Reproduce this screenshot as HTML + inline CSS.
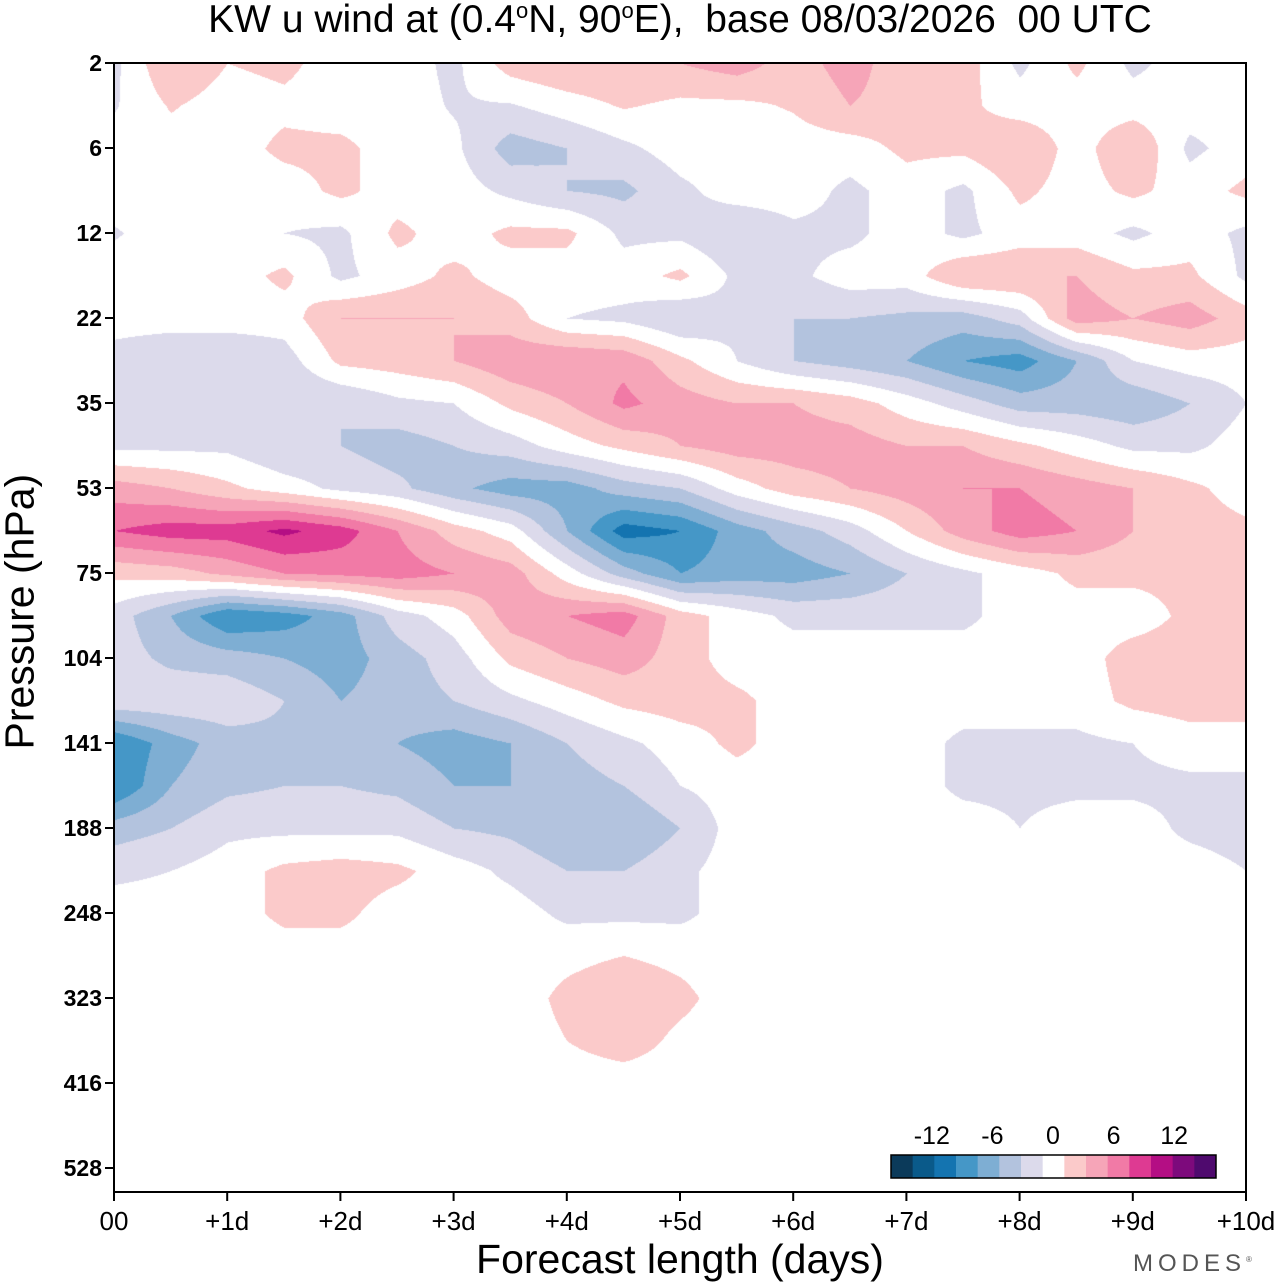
<!DOCTYPE html>
<html><head><meta charset="utf-8">
<style>
html,body{margin:0;padding:0;background:#fff;}
body{width:1280px;height:1286px;position:relative;overflow:hidden;font-family:"Liberation Sans",sans-serif;}
.t{position:absolute;white-space:nowrap;color:#000;}
</style></head>
<body>
<div class="t" style="left:0;width:1360px;text-align:center;top:-2px;font-size:39px;">KW u wind at (0.4<sup style="font-size:22px">o</sup>N, 90<sup style="font-size:22px">o</sup>E),&nbsp; base 08/03/2026&nbsp; 00 UTC</div>
<canvas id="cv" width="1280" height="1286" style="position:absolute;left:0;top:0"></canvas>
<svg id="sv" width="1280" height="1286" style="position:absolute;left:0;top:0"></svg>
<div class="t" style="left:0;width:1360px;text-align:center;top:1236px;font-size:41px;">Forecast length (days)</div>
<div class="t" style="left:-100px;top:606px;width:240px;text-align:center;font-size:41px;transform:rotate(-90deg);">Pressure (hPa)</div>
<div class="t" style="left:1133px;top:1250px;font-size:24px;letter-spacing:5px;color:#555;">MODES<sup style="font-size:8px">®</sup></div>
<script>
const xLabels=["00","+1d","+2d","+3d","+4d","+5d","+6d","+7d","+8d","+9d","+10d"];
const yLabels=["2","6","12","22","35","53","75","104","141","188","248","323","416","528"];
const cbLabels=["-12","-6","0","6","12"];
const cbValues=[-12,-6,0,6,12];
const levels=[-13,-11,-9,-7,-5,-3,-1,1,3,5,7,9,11,13];
const colors=["#0b3a5a","#0a5a8a","#1474b0","#4597c7","#7eaed3","#b3c3de","#dcdaeb","#ffffff","#fbcaca","#f6a5b8","#f17aa6","#de3a92","#b40e84","#7d0a7c","#4f0a6e"];
// grid: rows = half pressure ticks (27), cols = half days (21)
const r0=[-1.5,3,1,1.5,0,0,-1.5,2,3,3,3,4,2,4,1.5,2,-1.5,1.5,-1.5,0,0];
const r1=[-1.2,1.2,0,0.5,0,0,-1.2,-1.2,0,1.2,0.5,0.5,1.2,3,2,1.5,0,0,0,0,0];
const r2=[0,0,0,1.5,1.5,0,-0.5,-4,-3,-1.5,0,0,0,0,1.5,1.5,3,0,3,-1.5,0];
const r3=[0,0,0,0,1.5,0,0,-1.5,-3,-3.5,-1.5,0,0,-1.5,0,-1.5,1.5,0,1.5,0,1.5];
const r4=[-1.2,0,0,-1,-1.5,1.5,0,1.5,1.5,-1.5,-1.5,-3,-1.5,-1.5,0,-1.5,0,0,-1.5,0,-1.5];
const r5=[0,0,0,1.5,-1.5,0,1.5,0,0,0,1.5,-1.5,-1.5,0,0,3,3,3,1.5,1.5,-1.5];
const r6=[0,0,0,0,3,3,3,2,-1,-1.5,-3,-1.5,-3,-3,-3.5,-4,-2,4,3,4,2];
const r7=[-2,-3,-3,-2,1.5,2,3,4.5,5,4.5,1.5,-1,-3,-4,-5,-7,-8,-5,-1,0,0];
const r8=[-1.5,-1.5,-1.5,-3,-3,-1.5,-1,1.5,3,5.5,4,3,3,2,0,-2,-4,-4,-4.5,-3,-1];
const r9=[-1.5,-1.5,-1.5,-3,-3,-4,-3,-2,0,1.5,3,4,4,4,3,3,1.5,0,-1.5,-1.5,0];
const r10=[4,3,1.5,0,-1.5,-2.5,-4.5,-6,-6,-4,-3,0,2,3,4,5,5,4,3,1.5,0];
const r11=[7,8,8,9.5,8,5,2,0,-5,-10,-9,-6,-4,-2,1,4,6,5,3,2,1.5];
const r12=[1.5,2,3.5,5,5.5,6,5,4,0,-4,-7,-6,-6,-5,-3,-1.5,0,1.5,1.5,1.5,1.5];
const r13=[-2,-5,-9,-8,-6,-2,0,4,5,6,2,0,-1.5,-1.5,-1.5,-1.5,0,0,0,1.5,1.5];
const r14=[-2,-3.5,-4,-5,-6,-4,-2,1.5,3,4,2,0,0,0,0,0,0,0,2,2,2];
const r15=[-1.5,-1.5,-1.5,-3,-5,-4,-3,-1.5,0,1.5,2,1.5,0,0,0,0,0,0,1.5,2,2];
const r16=[-9,-6,-4,-3.5,-5,-5,-6,-5,-3,-1.5,0,1.5,0,0,0,-1.5,-1.5,-1.5,-1,0,0];
const r17=[-9,-5,-3.5,-3,-3,-3.5,-5,-5,-4,-3,-1,0,0,0,0,-1.5,-1.5,-1.5,-1.5,-1.5,-1.5];
const r18=[-4,-3,-1.5,-1.5,-1.5,-1.5,-3,-3.5,-5,-5,-3,0,0,0,0,0,-1,0,0,-1.5,-2];
const r19=[-1.5,-1,0,1.5,2,1.5,0,-1.5,-3,-3,-1.5,0,0,0,0,0,0,0,0,0,-1];
const r20=[0,0,0,1.5,1.5,0,0,0,-1.5,-1.5,-1.5,0,0,0,0,0,0,0,0,0,0];
const r21=[0,0,0,0,0,0,0,0,0.5,1,0.5,0,0,0,0,0,0,0,0,0,0];
const r22=[0,0,0,0,0,0,0,0,1.5,2.5,1.5,0,0,0,0,0,0,0,0,0,0];
const r23=[0,0,0,0,0,0,0,0,1,2,0.5,0,0,0,0,0,0,0,0,0,0];
const r24=[0,0,0,0,0,0,0,0,0,0,0,0,0,0,0,0,0,0,0,0,0];
const r25=[0,0,0,0,0,0,0,0,0,0,0,0,0,0,0,0,0,0,0,0,0];
const r26=[0,0,0,0,0,0,0,0,0,0,0,0,0,0,0,0,0,0,0,0,0];
const grid=[r0,r1,r2,r3,r4,r5,r6,r7,r8,r9,r10,r11,r12,r13,r14,r15,r16,r17,r18,r19,r20,r21,r22,r23,r24,r25,r26];

const X0=114,X1=1246,Y0=63,YT=85,YB=1192;
const xs=d=>X0+(X1-X0)*d/10;
const ys=i=>Y0+YT*i;
function hex(c){return [parseInt(c.substr(1,2),16),parseInt(c.substr(3,2),16),parseInt(c.substr(5,2),16)];}
const rgb=colors.map(hex);
function colIdx(v){let k=0;while(k<levels.length&&v>=levels[k])k++;return k;}
const cv=document.getElementById('cv'),ctx=cv.getContext('2d');
const W=X1-X0,H=YB-Y0;
const img=ctx.createImageData(W,H);
const nr=grid.length,nc=grid[0].length;
for(let py=0;py<H;py++){
  let fr=(py)/(YT/2); if(fr>nr-1)fr=nr-1;
  let i0=Math.floor(fr),i1=Math.min(i0+1,nr-1),ty=fr-i0;
  for(let px=0;px<W;px++){
    let fc=px/(W/(nc-1)); let j0=Math.floor(fc),j1=Math.min(j0+1,nc-1),tx=fc-j0;
    const v=(grid[i0][j0]*(1-tx)+grid[i0][j1]*tx)*(1-ty)+(grid[i1][j0]*(1-tx)+grid[i1][j1]*tx)*ty;
    const c=rgb[colIdx(v)];const o=(py*W+px)*4;
    img.data[o]=c[0];img.data[o+1]=c[1];img.data[o+2]=c[2];img.data[o+3]=255;
  }
}
ctx.putImageData(img,X0,Y0);

const NS='http://www.w3.org/2000/svg',sv=document.getElementById('sv');
function mk(t,a,txt){const e=document.createElementNS(NS,t);for(const k in a)e.setAttribute(k,a[k]);if(txt!==undefined)e.textContent=txt;sv.appendChild(e);return e;}
let fr=mk('rect',{x:X0,y:Y0,width:W,height:H,fill:'none',stroke:'#000','stroke-width':2});


xLabels.forEach((l,d)=>{
  let t=mk('line',{x1:xs(d),x2:xs(d),y1:YB,y2:YB+9,stroke:'#000','stroke-width':2});
  
  
  let tx=mk('text',{x:xs(d),y:YB+38,'text-anchor':'middle','font-size':26,'font-family':'Liberation Sans'},l);
  
  
});
yLabels.forEach((l,i)=>{
  let t=mk('line',{x1:X0-9,x2:X0,y1:ys(i),y2:ys(i),stroke:'#000','stroke-width':2});
  
  
  let tx=mk('text',{x:X0-12,y:ys(i)+8,'text-anchor':'end','font-size':23,'font-weight':'bold','font-family':'Liberation Sans'},l);
  
  
});
const CBX=891,CBW=325,CBY=1155,CBH=23,bw=CBW/colors.length;
colors.forEach((c,k)=>{
  let r=mk('rect',{x:CBX+k*bw,y:CBY,width:bw+0.5,height:CBH,fill:c});
  
  
});
let cbf=mk('rect',{x:CBX,y:CBY,width:CBW,height:CBH,fill:'none',stroke:'#000','stroke-width':1.5});


cbValues.forEach((v,k)=>{
  let t=mk('text',{x:1053+v*10.1,y:CBY-11,'text-anchor':'middle','font-size':25,'font-family':'Liberation Sans'},cbLabels[k]);
  
  
});
</script>
</body></html>
